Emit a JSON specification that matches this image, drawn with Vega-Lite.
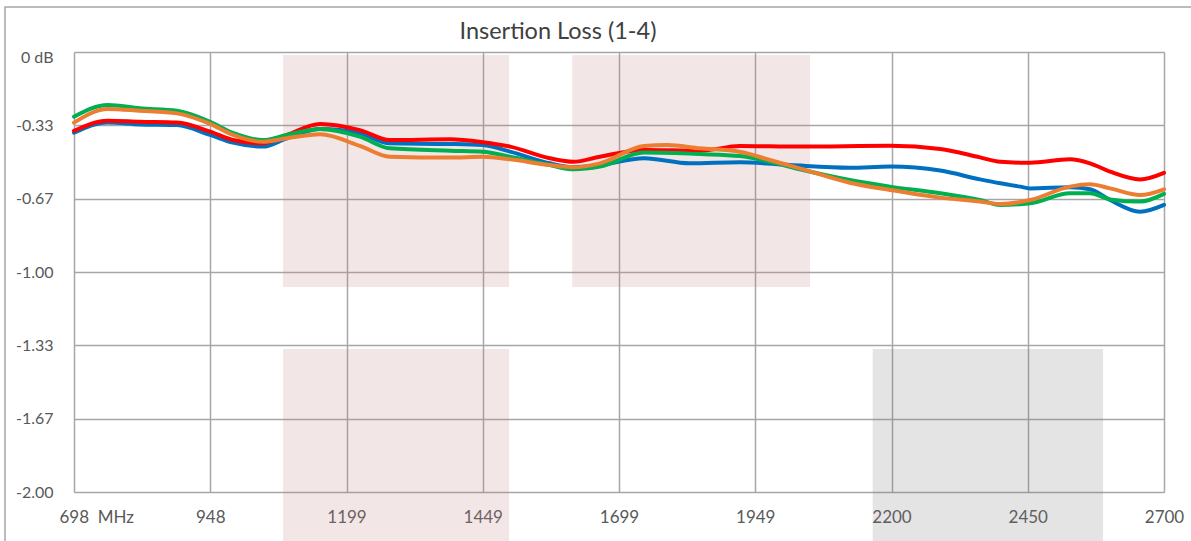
{
  "$schema": "https://vega.github.io/schema/vega-lite/v6.json",
  "width": 1090,
  "height": 440,
  "autosize": {"type": "none"},
  "padding": {"left": 74, "top": 52, "right": 27, "bottom": 49},
  "background": "white",
  "config": {"view": {"stroke": null}, "font": "Lato"},
  "title": {"text": "Insertion Loss (1-4)", "font": "Lato", "fontSize": 23.5, "fontWeight": "normal", "color": "#404040", "baseline": "alphabetic", "offset": -56, "dx": -61},
  "datasets": {
    "frame": [{"x1": 571.3, "x2": 2766, "y1": 0.2045, "y2": -2.309}],
    "bands": [
      {"x1": 1082, "x2": 1497, "y1": -0.0136, "y2": -1.068, "c": "#be8282"},
      {"x1": 1082, "x2": 1497, "y1": -1.35, "y2": -2.3, "c": "#be8282"},
      {"x1": 1613, "x2": 2050, "y1": -0.0136, "y2": -1.068, "c": "#be8282"},
      {"x1": 2165, "x2": 2588, "y1": -1.35, "y2": -2.3, "c": "#787878"}
    ],
    "lines": [
      {"s": "Port A", "f": 698, "v": -0.367},
      {"s": "Port A", "f": 760, "v": -0.320},
      {"s": "Port A", "f": 819, "v": -0.329},
      {"s": "Port A", "f": 887, "v": -0.332},
      {"s": "Port A", "f": 948, "v": -0.377},
      {"s": "Port A", "f": 990, "v": -0.412},
      {"s": "Port A", "f": 1045, "v": -0.430},
      {"s": "Port A", "f": 1089, "v": -0.392},
      {"s": "Port A", "f": 1150, "v": -0.350},
      {"s": "Port A", "f": 1223, "v": -0.370},
      {"s": "Port A", "f": 1278, "v": -0.415},
      {"s": "Port A", "f": 1389, "v": -0.418},
      {"s": "Port A", "f": 1449, "v": -0.423},
      {"s": "Port A", "f": 1499, "v": -0.453},
      {"s": "Port A", "f": 1572, "v": -0.506},
      {"s": "Port A", "f": 1615, "v": -0.524},
      {"s": "Port A", "f": 1664, "v": -0.514},
      {"s": "Port A", "f": 1745, "v": -0.483},
      {"s": "Port A", "f": 1829, "v": -0.506},
      {"s": "Port A", "f": 1921, "v": -0.501},
      {"s": "Port A", "f": 2013, "v": -0.514},
      {"s": "Port A", "f": 2123, "v": -0.526},
      {"s": "Port A", "f": 2197, "v": -0.521},
      {"s": "Port A", "f": 2289, "v": -0.539},
      {"s": "Port A", "f": 2362, "v": -0.579},
      {"s": "Port A", "f": 2399, "v": -0.597},
      {"s": "Port A", "f": 2436, "v": -0.612},
      {"s": "Port A", "f": 2454, "v": -0.620},
      {"s": "Port A", "f": 2527, "v": -0.615},
      {"s": "Port A", "f": 2564, "v": -0.624},
      {"s": "Port A", "f": 2601, "v": -0.673},
      {"s": "Port A", "f": 2656, "v": -0.726},
      {"s": "Port A", "f": 2700, "v": -0.695},

      {"s": "Port B", "f": 698, "v": -0.358},
      {"s": "Port B", "f": 760, "v": -0.312},
      {"s": "Port B", "f": 819, "v": -0.317},
      {"s": "Port B", "f": 887, "v": -0.321},
      {"s": "Port B", "f": 948, "v": -0.362},
      {"s": "Port B", "f": 990, "v": -0.400},
      {"s": "Port B", "f": 1045, "v": -0.415},
      {"s": "Port B", "f": 1089, "v": -0.377},
      {"s": "Port B", "f": 1150, "v": -0.327},
      {"s": "Port B", "f": 1223, "v": -0.355},
      {"s": "Port B", "f": 1278, "v": -0.400},
      {"s": "Port B", "f": 1389, "v": -0.397},
      {"s": "Port B", "f": 1449, "v": -0.410},
      {"s": "Port B", "f": 1499, "v": -0.430},
      {"s": "Port B", "f": 1572, "v": -0.483},
      {"s": "Port B", "f": 1615, "v": -0.499},
      {"s": "Port B", "f": 1664, "v": -0.476},
      {"s": "Port B", "f": 1745, "v": -0.445},
      {"s": "Port B", "f": 1848, "v": -0.449},
      {"s": "Port B", "f": 1921, "v": -0.427},
      {"s": "Port B", "f": 2031, "v": -0.430},
      {"s": "Port B", "f": 2197, "v": -0.426},
      {"s": "Port B", "f": 2289, "v": -0.441},
      {"s": "Port B", "f": 2362, "v": -0.479},
      {"s": "Port B", "f": 2399, "v": -0.499},
      {"s": "Port B", "f": 2436, "v": -0.503},
      {"s": "Port B", "f": 2454, "v": -0.503},
      {"s": "Port B", "f": 2527, "v": -0.488},
      {"s": "Port B", "f": 2564, "v": -0.506},
      {"s": "Port B", "f": 2601, "v": -0.544},
      {"s": "Port B", "f": 2656, "v": -0.579},
      {"s": "Port B", "f": 2700, "v": -0.549},

      {"s": "Port C", "f": 698, "v": -0.294},
      {"s": "Port C", "f": 760, "v": -0.241},
      {"s": "Port C", "f": 819, "v": -0.256},
      {"s": "Port C", "f": 887, "v": -0.267},
      {"s": "Port C", "f": 948, "v": -0.317},
      {"s": "Port C", "f": 990, "v": -0.368},
      {"s": "Port C", "f": 1045, "v": -0.400},
      {"s": "Port C", "f": 1089, "v": -0.377},
      {"s": "Port C", "f": 1150, "v": -0.350},
      {"s": "Port C", "f": 1223, "v": -0.385},
      {"s": "Port C", "f": 1278, "v": -0.438},
      {"s": "Port C", "f": 1389, "v": -0.449},
      {"s": "Port C", "f": 1449, "v": -0.453},
      {"s": "Port C", "f": 1499, "v": -0.476},
      {"s": "Port C", "f": 1572, "v": -0.514},
      {"s": "Port C", "f": 1615, "v": -0.533},
      {"s": "Port C", "f": 1664, "v": -0.521},
      {"s": "Port C", "f": 1745, "v": -0.457},
      {"s": "Port C", "f": 1848, "v": -0.464},
      {"s": "Port C", "f": 1921, "v": -0.473},
      {"s": "Port C", "f": 1976, "v": -0.499},
      {"s": "Port C", "f": 2031, "v": -0.533},
      {"s": "Port C", "f": 2123, "v": -0.582},
      {"s": "Port C", "f": 2197, "v": -0.612},
      {"s": "Port C", "f": 2289, "v": -0.642},
      {"s": "Port C", "f": 2362, "v": -0.673},
      {"s": "Port C", "f": 2399, "v": -0.695},
      {"s": "Port C", "f": 2454, "v": -0.688},
      {"s": "Port C", "f": 2527, "v": -0.642},
      {"s": "Port C", "f": 2564, "v": -0.642},
      {"s": "Port C", "f": 2601, "v": -0.670},
      {"s": "Port C", "f": 2656, "v": -0.680},
      {"s": "Port C", "f": 2700, "v": -0.645},

      {"s": "Port D", "f": 698, "v": -0.321},
      {"s": "Port D", "f": 760, "v": -0.259},
      {"s": "Port D", "f": 819, "v": -0.267},
      {"s": "Port D", "f": 887, "v": -0.279},
      {"s": "Port D", "f": 948, "v": -0.327},
      {"s": "Port D", "f": 990, "v": -0.377},
      {"s": "Port D", "f": 1045, "v": -0.408},
      {"s": "Port D", "f": 1089, "v": -0.392},
      {"s": "Port D", "f": 1150, "v": -0.374},
      {"s": "Port D", "f": 1223, "v": -0.427},
      {"s": "Port D", "f": 1278, "v": -0.476},
      {"s": "Port D", "f": 1389, "v": -0.480},
      {"s": "Port D", "f": 1449, "v": -0.476},
      {"s": "Port D", "f": 1499, "v": -0.488},
      {"s": "Port D", "f": 1572, "v": -0.514},
      {"s": "Port D", "f": 1615, "v": -0.524},
      {"s": "Port D", "f": 1664, "v": -0.506},
      {"s": "Port D", "f": 1745, "v": -0.427},
      {"s": "Port D", "f": 1787, "v": -0.423},
      {"s": "Port D", "f": 1848, "v": -0.438},
      {"s": "Port D", "f": 1921, "v": -0.453},
      {"s": "Port D", "f": 1976, "v": -0.491},
      {"s": "Port D", "f": 2031, "v": -0.529},
      {"s": "Port D", "f": 2123, "v": -0.594},
      {"s": "Port D", "f": 2197, "v": -0.627},
      {"s": "Port D", "f": 2289, "v": -0.662},
      {"s": "Port D", "f": 2362, "v": -0.680},
      {"s": "Port D", "f": 2399, "v": -0.691},
      {"s": "Port D", "f": 2454, "v": -0.673},
      {"s": "Port D", "f": 2527, "v": -0.612},
      {"s": "Port D", "f": 2564, "v": -0.601},
      {"s": "Port D", "f": 2601, "v": -0.620},
      {"s": "Port D", "f": 2656, "v": -0.650},
      {"s": "Port D", "f": 2700, "v": -0.624}
    ]
  },
  "layer": [
    {
      "data": {"name": "frame"},
      "mark": {"type": "rect", "filled": false, "stroke": "#a6a6a6", "strokeWidth": 1.5, "clip": false},
      "encoding": {
        "x": {"field": "x1", "type": "quantitative", "scale": {"domain": [698, 2700], "nice": false, "zero": false},
          "axis": {
            "values": [698, 948.25, 1198.5, 1448.75, 1699, 1949.25, 2199.5, 2449.75, 2700],
            "title": null, "domain": false, "ticks": false, "tickSize": 0,
            "grid": true, "gridColor": "#a6a6a6", "gridWidth": 1.5,
            "labelFont": "Lato", "labelFontSize": 17, "labelColor": "#595959", "labelPadding": 17,
            "labelExpr": "datum.value == 698 ? '698\u00a0\u00a0MHz' : format(datum.value, '.0f')",
            "labelAlign": {"condition": {"test": "datum.value == 698", "value": "left"}, "value": "center"},
            "labelOffset": {"condition": {"test": "datum.value == 698", "value": -15}, "value": 0},
            "labelFlush": false, "labelOverlap": false, "labelBound": false
          }},
        "x2": {"field": "x2"},
        "y": {"field": "y1", "type": "quantitative", "scale": {"domain": [-2, 0], "nice": false, "zero": false},
          "axis": {
            "values": [0, -0.3333333333333333, -0.6666666666666666, -1, -1.3333333333333333, -1.6666666666666667, -2],
            "title": null, "domain": false, "ticks": false, "tickSize": 0,
            "grid": true, "gridColor": "#a6a6a6", "gridWidth": 1.5,
            "labelFont": "Lato", "labelFontSize": 16, "labelColor": "#595959", "labelPadding": 21,
            "labelExpr": "datum.value == 0 ? '0 dB' : '-' + format(-datum.value, '.2f')",
            "labelOffset": {"condition": {"test": "datum.value == 0", "value": 5}, "value": 0},
            "labelFlush": false, "labelOverlap": false, "labelBound": false
          }},
        "y2": {"field": "y2"}
      }
    },
    {
      "data": {"name": "bands"},
      "mark": {"type": "rect", "opacity": 0.2, "clip": false},
      "encoding": {
        "x": {"field": "x1", "type": "quantitative"},
        "x2": {"field": "x2"},
        "y": {"field": "y1", "type": "quantitative"},
        "y2": {"field": "y2"},
        "color": {"field": "c", "type": "nominal", "scale": null, "legend": null}
      }
    },
    {
      "data": {"name": "lines"},
      "mark": {"type": "line", "strokeWidth": 4, "interpolate": "monotone", "strokeCap": "round"},
      "encoding": {
        "x": {"field": "f", "type": "quantitative"},
        "y": {"field": "v", "type": "quantitative"},
        "color": {"field": "s", "type": "nominal", "legend": null,
          "scale": {"domain": ["Port A", "Port B", "Port C", "Port D"], "range": ["#0070c0", "#ff0000", "#00b050", "#ed7d31"]}}
      }
    }
  ]
}
